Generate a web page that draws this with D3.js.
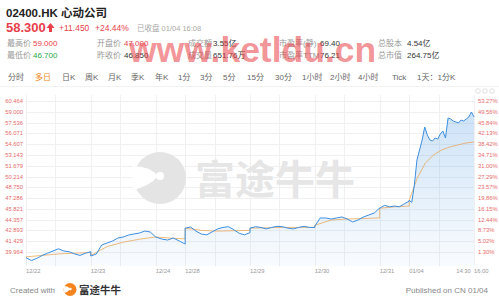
<!DOCTYPE html>
<html>
<head>
<meta charset="utf-8">
<script src="https://cdn.jsdelivr.net/npm/d3@7"></script>
<style>
body { margin: 0; background: #fff; }
svg { display: block; font-family: "Liberation Sans", "Noto Sans CJK SC", sans-serif; }
</style>
</head>
<body>
<svg width="499" height="304"></svg>
<script>
// ---- data ----
const days = ['12/22', '12/23', '12/24', '12/28', '12/29', '12/30', '12/31', '01/04']
const dayMinutes = [330, 330, 150, 330, 330, 330, 150, 330]

// price samples, evenly spaced inside each session
const priceByDay = [
    [39.2, 38.8, 39.1, 39.5, 39.8, 40.1, 40.4, 40.1, 40.0, 39.7, 39.5, 39.8, 40.0],
    [39.42, 39.69, 40.91, 41.19, 41.45, 41.86, 42.0, 42.27, 42.41, 42.54, 42.81, 42.68, 42.0],
    [42.0, 41.73, 41.59, 41.86, 41.46, 41.05],
    [43.2, 43.36, 42.8, 42.4, 42.3, 42.7, 43.1, 43.3, 43.4, 43.0, 42.5, 42.3, 42.6],
    [43.2, 43.4, 43.3, 43.1, 43.3, 43.45, 43.4, 43.2, 43.1, 43.3, 43.45, 43.3, 43.3],
    [43.49, 44.58, 44.58, 44.44, 44.58, 44.72, 44.44, 44.04, 44.31, 44.72, 44.99, 45.26, 45.94],
    [45.9, 46.3, 46.1, 46.2, 46.1, 46.5, 46.85],
    [47.0, 46.7, 49.06, 52.45, 53.81, 55.17, 56.93, 55.85, 55.17, 55.03, 55.44, 55.3, 55.98,
        56.39, 55.44, 58.16, 58.02, 57.75, 57.61, 57.48, 57.88, 57.75, 58.02, 58.29, 58.97, 58.3]
]

// average price line samples
const avgByDay = [
    [39.3, 39.5, 39.7, 39.8, 39.9],
    [39.5, 40.7, 41.3, 41.7, 42.0],
    [42.0, 41.85, 41.75],
    [43.2, 42.9, 42.8, 42.85, 42.9],
    [43.2, 43.25, 43.3, 43.3, 43.3],
    [43.6, 44.3, 44.45, 44.5, 44.6],
    [45.9, 46.1, 46.2],
    [47.0, 50.0, 52.05, 53.13, 53.81, 54.22, 54.49, 54.76, 54.9]
]

const priceTicks = [39.964, 41.429, 42.893, 44.357, 45.821, 47.286, 48.750, 50.214,
    51.679, 53.143, 54.607, 56.071, 57.536, 59.000, 60.464]
const pctTicks = ['1.30%', '5.02%', '8.73%', '12.44%', '16.15%', '19.86%', '23.57%', '27.29%',
    '31.00%', '34.71%', '38.42%', '42.13%', '45.84%', '49.56%', '53.27%']

const tabs = ['分时', '多日', '日K', '周K', '月K', '季K', '年K', '1分', '3分', '5分', '15分',
    '30分', '1小时', '2小时', '4小时', 'Tick', '1天：1分K']
const tabX = [8, 35, 62, 85, 108, 131, 155, 178, 200, 223, 247, 275, 302, 330, 358, 392, 417]

const statsRow1 = [['最高价', '59.000', '#e8404a'], ['开盘价', '47.000', '#e8404a'], ['成交额', '3.55亿', '#333'],
    ['市盈率(静)', '69.40', '#333'], ['总股本', '4.54亿', '#333']]
const statsRow2 = [['最低价', '46.700', '#1fa84a'], ['昨收价', '46.850', '#333'], ['成交量', '651.76万', '#333'],
    ['市盈率TTM', '76.21', '#333'], ['总市值', '264.75亿', '#333']]
const statLabelX = [7, 97, 188, 279, 378]
const statValueX = [33, 124, 213, 320, 407]

// ---- layout ----
const svg = d3.select('svg')
const plot = { left: 26, right: 474, top: 95, bottom: 266 }
const red = '#e8404a'

const starts = []
dayMinutes.reduce((acc, m) => { starts.push(acc); return acc + m }, 0)
const totalMinutes = d3.sum(dayMinutes)

const x = d3.scaleLinear().domain([0, totalMinutes]).range([plot.left, plot.right])
const y = d3.scaleLinear().domain([39.964, 60.464]).range([252, 101])

function toPoints(byDay) {
    let pts = []
    byDay.forEach((vals, d) => {
        vals.forEach((v, i) => {
            pts.push([starts[d] + i * dayMinutes[d] / (vals.length - 1), v])
        })
    })
    return pts
}
const pricePts = toPoints(priceByDay)
const avgPts = toPoints(avgByDay)

// header
svg.append('text').attr('x', 6).attr('y', 17).attr('font-size', 11.5).attr('font-weight', 'bold')
    .attr('fill', '#222').text('02400.HK 心动公司')
svg.append('text').attr('x', 6).attr('y', 32).attr('font-size', 13).attr('font-weight', 'bold')
    .attr('fill', red).text('58.300')
svg.append('path').attr('d', 'M50.5,23 L54.5,28 L52,28 L52,32 L49,32 L49,28 L46.5,28 Z').attr('fill', red)
svg.append('text').attr('x', 59).attr('y', 31).attr('font-size', 8.5).attr('fill', red).text('+11.450')
svg.append('text').attr('x', 95).attr('y', 31).attr('font-size', 8.5).attr('fill', red).text('+24.44%')
svg.append('text').attr('x', 137).attr('y', 31).attr('font-size', 7.5).attr('fill', '#aaa').text('已收盘 01/04 16:08')

;[[statsRow1, 46], [statsRow2, 58]].forEach(([row, yy]) => {
    row.forEach((s, i) => {
        svg.append('text').attr('x', statLabelX[i]).attr('y', yy).attr('font-size', 8).attr('fill', '#999').text(s[0])
        svg.append('text').attr('x', statValueX[i]).attr('y', yy).attr('font-size', 8).attr('fill', s[2]).text(s[1])
    })
})

// tabs
svg.selectAll('.tab').data(tabs).enter().append('text')
    .attr('class', 'tab')
    .attr('x', (d, i) => tabX[i]).attr('y', 80)
    .attr('font-size', 8)
    .attr('fill', (d, i) => i === 1 ? '#f08a24' : '#666')
    .text(d => d)
svg.append('line').attr('x1', 0).attr('x2', 499).attr('y1', 86.5).attr('y2', 86.5).attr('stroke', '#f2f2f2')
;[478, 485, 492].forEach(cx => {
    svg.append('circle').attr('cx', cx).attr('cy', 91).attr('r', 2.3).attr('fill', 'none').attr('stroke', '#ccc').attr('stroke-width', 0.6)
})

// grid
const grid = svg.append('g').attr('stroke', '#f0f0f0').attr('stroke-width', 1)
priceTicks.forEach(t => {
    grid.append('line').attr('x1', plot.left).attr('x2', plot.right)
        .attr('y1', Math.round(y(t)) + 0.5).attr('y2', Math.round(y(t)) + 0.5)
})
const vLines = []
days.forEach((d, i) => {
    vLines.push(starts[i])
    if (dayMinutes[i] > 150) vLines.push(starts[i] + 150)
})
vLines.push(totalMinutes)
vLines.forEach(m => {
    grid.append('line').attr('x1', Math.round(x(m)) + 0.5).attr('x2', Math.round(x(m)) + 0.5)
        .attr('y1', plot.top).attr('y2', plot.bottom)
})

// watermark logo + text
const wm = svg.append('g')
wm.append('circle').attr('cx', 160).attr('cy', 178).attr('r', 26).attr('fill', '#e4e4e4')
wm.append('path').attr('d', 'M132,166 Q150,166 158,176 Q150,186 133,190 Z').attr('fill', '#fff')
wm.append('circle').attr('cx', 160).attr('cy', 176).attr('r', 4).attr('fill', '#fff')
wm.append('circle').attr('cx', 152).attr('cy', 190).attr('r', 2.5).attr('fill', '#e4e4e4')
wm.append('text').attr('x', 195).attr('y', 194).attr('font-size', 40).attr('font-weight', 'bold')
    .attr('fill', '#e6e6e6').text('富途牛牛')

// area + lines
const defs = svg.append('defs')
const grad = defs.append('linearGradient').attr('id', 'fillGrad')
    .attr('gradientUnits', 'userSpaceOnUse').attr('x1', 0).attr('x2', 0).attr('y1', plot.top).attr('y2', plot.bottom)
grad.append('stop').attr('offset', 0).attr('stop-color', '#3d8fe0').attr('stop-opacity', 0.28)
grad.append('stop').attr('offset', 1).attr('stop-color', '#3d8fe0').attr('stop-opacity', 0.03)

const area = d3.area().x(d => x(d[0])).y0(plot.bottom).y1(d => y(d[1]))
svg.append('path').datum(pricePts).attr('d', area).attr('fill', 'url(#fillGrad)')

const line = d3.line().x(d => x(d[0])).y(d => y(d[1]))
svg.append('path').datum(avgPts).attr('d', line).attr('fill', 'none')
    .attr('stroke', '#e9a04e').attr('stroke-width', 0.9).attr('stroke-opacity', 0.8)
svg.append('path').datum(pricePts).attr('d', line).attr('fill', 'none')
    .attr('stroke', '#3d8fe0').attr('stroke-width', 1)

// y labels
priceTicks.forEach((t, i) => {
    svg.append('text').attr('x', 23).attr('y', y(t) + 2).attr('text-anchor', 'end')
        .attr('font-size', 5.8).attr('fill', '#e86a6a').text(t.toFixed(3))
    svg.append('text').attr('x', 478).attr('y', y(t) + 2)
        .attr('font-size', 5.8).attr('fill', '#e86a6a').text(pctTicks[i])
})

// x labels
const xLabels = days.map((d, i) => [starts[i], d])
xLabels.push([starts[7] + 240, '14:30'])
xLabels.push([totalMinutes, '16:00'])
xLabels.forEach(([m, t]) => {
    svg.append('text').attr('x', x(m)).attr('y', 273).attr('font-size', 5.8).attr('fill', '#999').text(t)
})

// site watermark over header
svg.append('text').attr('x', 129).attr('y', 62).attr('font-size', 35.5).attr('font-weight', 'bold')
    .attr('fill', '#e8454a').attr('fill-opacity', 0.58).text('www.ketldu.cn')

// footer
svg.append('text').attr('x', 10).attr('y', 293).attr('font-size', 8).attr('fill', '#888').text('Created with')
svg.append('circle').attr('cx', 70).attr('cy', 289.5).attr('r', 6.5).attr('fill', '#f5841f')
svg.append('path').attr('d', 'M63.5,286 Q68,286 70.5,289 Q68,292 63.8,293 Z').attr('fill', '#fff')
svg.append('circle').attr('cx', 70.5).attr('cy', 289).attr('r', 1.2).attr('fill', '#fff')
svg.append('text').attr('x', 79).attr('y', 293.5).attr('font-size', 10.5).attr('font-weight', 'bold')
    .attr('fill', '#333').text('富途牛牛')
svg.append('text').attr('x', 488).attr('y', 293).attr('text-anchor', 'end').attr('font-size', 8)
    .attr('fill', '#888').text('Published on CN 01/04')
</script>
</body>
</html>
